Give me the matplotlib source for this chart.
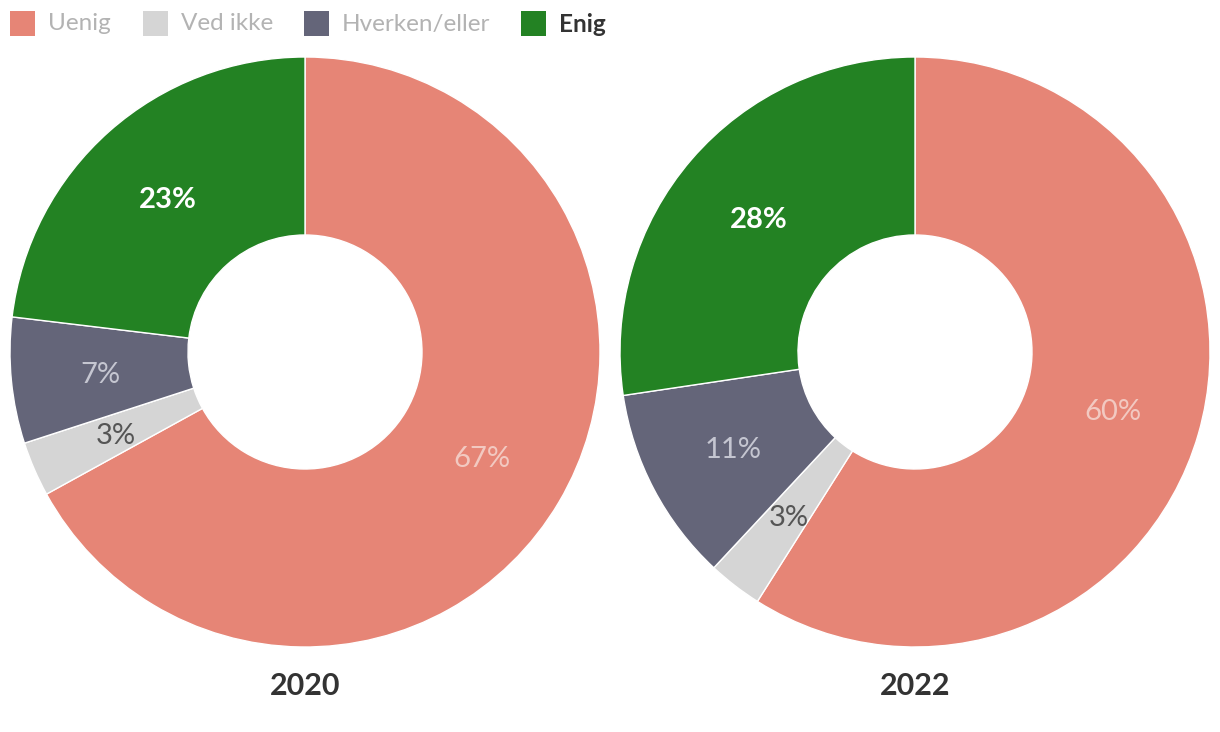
import matplotlib
matplotlib.use("Agg")
import matplotlib.pyplot as plt
from matplotlib.patches import Rectangle
import numpy as np

plt.rcParams['font.family'] = ['Lato', 'DejaVu Sans']

categories = ["Uenig", "Ved ikke", "Hverken/eller", "Enig"]
years = ["2020", "2022"]
values_2020 = [67.0, 3.0, 6.9, 23.1]
values_2022 = [59.5, 3.0, 10.8, 27.6]
series = [values_2020, values_2022]

colors = ["#e68576", "#d5d5d5", "#646579", "#238223"]
label_colors = ["#f2c9c1", "#555555", "#c5c6d1", "#ffffff"]
label_weights = ["normal", "normal", "normal", "bold"]
legend_text_colors = ["#b3b3b3", "#b3b3b3", "#b3b3b3", "#333333"]
legend_weights = ["normal", "normal", "normal", "bold"]

W, H = 1220, 732
fig = plt.figure(figsize=(W / 100, H / 100), dpi=100)

centers = [(305, 352), (915, 352)]
R = 295
inner = 117
width = (R - inner) / R
label_r = (R + inner) / 2 / R

for (cx, cy), vals, yr in zip(centers, series, years):
    ax = fig.add_axes([(cx - R) / W, (H - cy - R) / H, 2 * R / W, 2 * R / H])
    ax.pie(vals, colors=colors, startangle=90, counterclock=False,
           radius=1, wedgeprops=dict(width=width, edgecolor="white", linewidth=1))
    total = sum(vals)
    ang = 90.0
    for v, lc, lw in zip(vals, label_colors, label_weights):
        span = v / total * 360
        mid = np.deg2rad(ang - span / 2)
        ax.text(label_r * np.cos(mid), label_r * np.sin(mid), f"{v:.0f}%",
                ha="center", va="center_baseline", fontsize=21, color=lc, fontweight=lw)
        ang -= span
    ax.set_xlim(-1, 1)
    ax.set_ylim(-1, 1)
    ax.set_aspect("equal")
    ax.axis("off")
    fig.text(cx / W, 1 - 686 / H, yr, ha="center", va="center", fontsize=22,
             fontweight="bold", color="#333333")

# Legend
sq_x = [10, 143, 304, 521]
for x, cat, c, tc, tw in zip(sq_x, categories, colors, legend_text_colors, legend_weights):
    fig.patches.append(Rectangle((x / W, 1 - 36 / H), 25 / W, 25 / H, transform=fig.transFigure,
                                 facecolor=c, edgecolor="none"))
    fig.text((x + 38) / W, 1 - 24 / H, cat, ha="left", va="center", fontsize=17.5,
             color=tc, fontweight=tw)

fig.savefig("out.png", dpi=100)
